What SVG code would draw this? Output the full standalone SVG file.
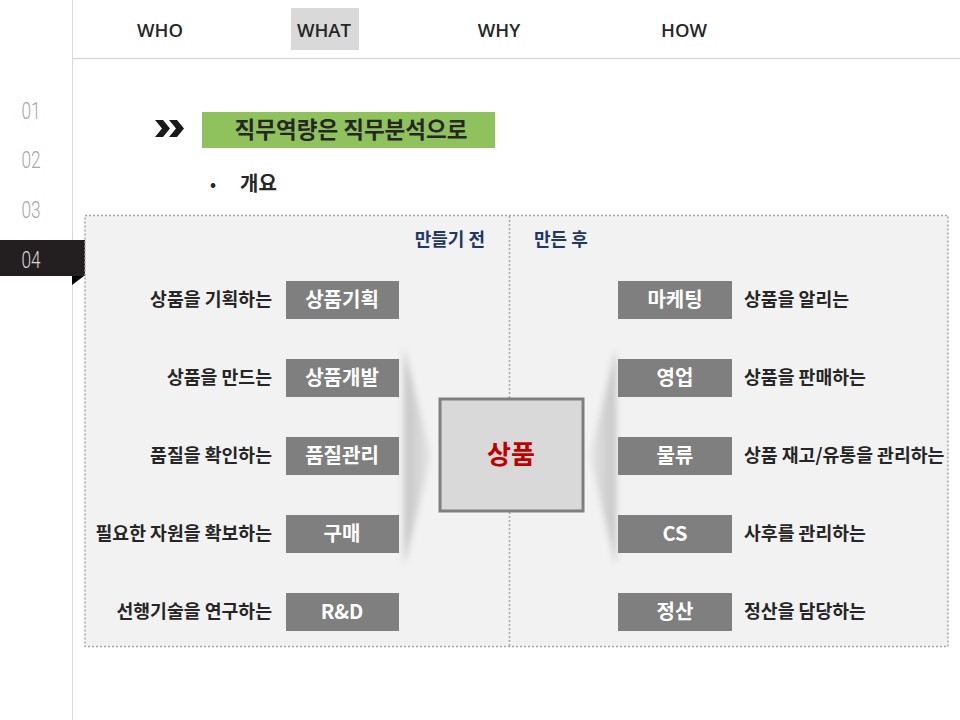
<svg xmlns="http://www.w3.org/2000/svg" width="960" height="720" viewBox="0 0 960 720">
<defs>
<style>
.kr{font-family:"Noto Sans CJK KR","Noto Sans",sans-serif;font-weight:700}
.nav{font-family:"Open Sans","Noto Sans",sans-serif;font-weight:600;font-size:18.5px;fill:#262626;text-anchor:middle}
.num{font-family:"Roboto","DejaVu Sans",sans-serif;font-weight:300;font-size:24px;fill:#a6a6a6;text-anchor:middle}
.box{fill:#7f7f7f}
.bt{font-size:20px;fill:#ffffff;text-anchor:middle}
.lt{font-size:18.3px;fill:#262626}
.hd{font-size:18px;fill:#1f3864}
</style>
<filter id="blur" x="-50%" y="-10%" width="200%" height="120%"><feGaussianBlur stdDeviation="3"/></filter>
<linearGradient id="gl" x1="0" y1="0" x2="1" y2="0"><stop offset="0" stop-color="#c4c4c4"/><stop offset="1" stop-color="#e6e6e6"/></linearGradient>
<linearGradient id="gr" x1="1" y1="0" x2="0" y2="0"><stop offset="0" stop-color="#c4c4c4"/><stop offset="1" stop-color="#e6e6e6"/></linearGradient>
</defs>
<rect width="960" height="720" fill="#ffffff"/>
<g id="frame">
<line x1="72.5" y1="0" x2="72.5" y2="720" stroke="#d9d9d9" stroke-width="1"/>
<line x1="72" y1="58.5" x2="960" y2="58.5" stroke="#d9d9d9" stroke-width="1.5"/>
</g>
<g id="nav">
<rect x="291" y="8" width="68" height="42" fill="#d9d9d9"/>
<text class="nav" x="160" y="37">WHO</text>
<text class="nav" x="324" y="37">WHAT</text>
<text class="nav" x="499" y="37">WHY</text>
<text class="nav" x="684" y="37">HOW</text>
</g>
<g id="side">
<text class="num" x="31" y="119" transform="translate(31 0) scale(0.72 1) translate(-31 0)">01</text>
<text class="num" x="31" y="168" transform="translate(31 0) scale(0.72 1) translate(-31 0)">02</text>
<text class="num" x="31" y="218" transform="translate(31 0) scale(0.72 1) translate(-31 0)">03</text>
<rect x="0" y="240" width="85" height="36" fill="#231f20"/>
<polygon points="72,276 84,276 72,285" fill="#000000"/>
<text class="num" x="31" y="268" style="fill:#d9d9d9" transform="translate(31 0) scale(0.72 1) translate(-31 0)">04</text>
</g>
<g id="title">
<polygon points="155,120 163,120 170,128.5 163,137 155,137 162,128.5" fill="#1a1a1a"/>
<polygon points="169,120 177,120 184,128.5 177,137 169,137 176,128.5" fill="#1a1a1a"/>
<rect x="202" y="112" width="293" height="36" fill="#8fc25c"/>
<text class="kr" x="351" y="138" font-size="22.5" fill="#262626" text-anchor="middle">직무역량은 직무분석으로</text>
<text class="kr" x="213" y="190" font-size="16" fill="#262626" text-anchor="middle">•</text>
<text class="kr" x="240" y="191" font-size="20" fill="#262626">개요</text>
</g>
<g id="panel">
<rect x="85" y="215.5" width="863" height="431" fill="#f2f2f2" stroke="#a6a6a6" stroke-width="1.5" stroke-dasharray="2 2"/>
<line x1="509.5" y1="216" x2="509.5" y2="646" stroke="#a6a6a6" stroke-width="1.5" stroke-dasharray="2 2"/>
<text class="kr hd" x="485" y="246" text-anchor="end">만들기 전</text>
<text class="kr hd" x="534" y="246">만든 후</text>
</g>
<g id="connectors">
<polygon points="404,348 431,456 404,566" fill="url(#gl)" filter="url(#blur)"/>
<polygon points="616,348 590,456 616,566" fill="url(#gr)" filter="url(#blur)"/>
</g>
<g id="center">
<rect x="440" y="399" width="143" height="112" fill="#d9d9d9" stroke="#7f7f7f" stroke-width="3"/>
<text class="kr" x="511" y="464" font-size="26" fill="#c00000" text-anchor="middle">상품</text>
</g>
<g id="l1"><rect class="box" x="286" y="281" width="113" height="38"/><text class="kr bt" x="342" y="307">상품기획</text><text class="kr lt" x="272" y="306" text-anchor="end">상품을 기획하는</text></g>
<g id="l2"><rect class="box" x="286" y="359" width="113" height="38"/><text class="kr bt" x="342" y="385">상품개발</text><text class="kr lt" x="272" y="384" text-anchor="end">상품을 만드는</text></g>
<g id="l3"><rect class="box" x="286" y="437" width="113" height="38"/><text class="kr bt" x="342" y="463">품질관리</text><text class="kr lt" x="272" y="462" text-anchor="end">품질을 확인하는</text></g>
<g id="l4"><rect class="box" x="286" y="515" width="113" height="38"/><text class="kr bt" x="342" y="541">구매</text><text class="kr lt" x="272" y="540" text-anchor="end">필요한 자원을 확보하는</text></g>
<g id="l5"><rect class="box" x="286" y="593" width="113" height="38"/><text class="kr bt" x="342" y="619">R&amp;D</text><text class="kr lt" x="272" y="618" text-anchor="end">선행기술을 연구하는</text></g>
<g id="r1"><rect class="box" x="618" y="281" width="114" height="38"/><text class="kr bt" x="675" y="307">마케팅</text><text class="kr lt" x="744" y="306">상품을 알리는</text></g>
<g id="r2"><rect class="box" x="618" y="359" width="114" height="38"/><text class="kr bt" x="675" y="385">영업</text><text class="kr lt" x="744" y="384">상품을 판매하는</text></g>
<g id="r3"><rect class="box" x="618" y="437" width="114" height="38"/><text class="kr bt" x="675" y="463">물류</text><text class="kr lt" x="744" y="462">상품 재고/유통을 관리하는</text></g>
<g id="r4"><rect class="box" x="618" y="515" width="114" height="38"/><text class="kr bt" x="675" y="541">CS</text><text class="kr lt" x="744" y="540">사후를 관리하는</text></g>
<g id="r5"><rect class="box" x="618" y="593" width="114" height="38"/><text class="kr bt" x="675" y="619">정산</text><text class="kr lt" x="744" y="618">정산을 담당하는</text></g>
</svg>
